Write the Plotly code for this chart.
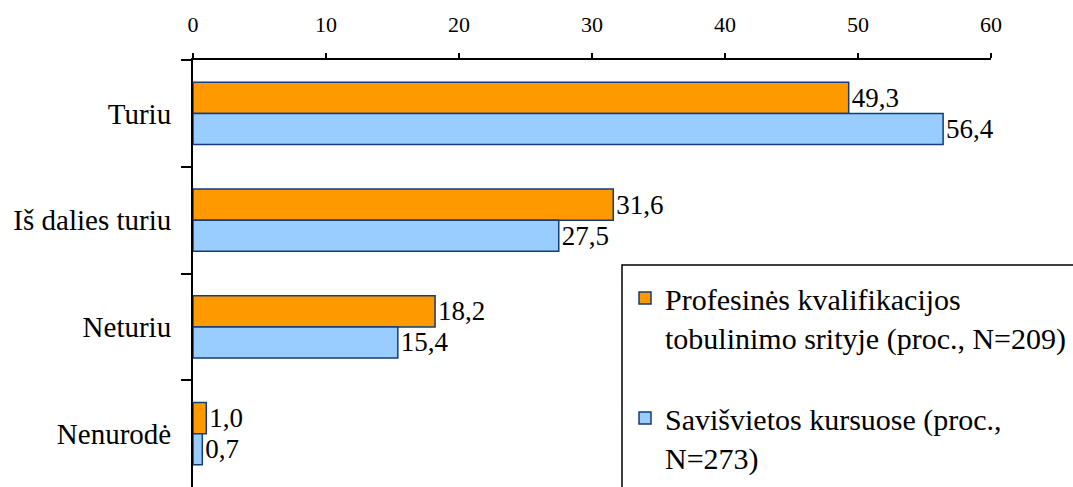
import plotly.graph_objects as go

categories = ["Turiu", "Iš dalies turiu", "Neturiu", "Nenurodė"]
series1_name = "Profesinės kvalifikacijos<br>tobulinimo srityje (proc., N=209)"
series1 = [49.3, 31.6, 18.2, 1.0]
series2_name = "Savišvietos kursuose (proc.,<br>N=273)"
series2 = [56.4, 27.5, 15.4, 0.7]
x_ticks = [0, 10, 20, 30, 40, 50, 60]

FONT = "Liberation Serif, serif"
W, H = 1073, 487
L, R, T, B = 193, 82, 60, 0
pw, ph = W - L - R, H - T - B

def px2x(p):
    return (p - L) / pw

def px2y(p):
    return (H - B - p) / ph

def fmt(v):
    return f"{v:.1f}".replace(".", ",")

fig = go.Figure()
for name, vals, color, grp in [(series1_name, series1, "#FF9900", "a"),
                                (series2_name, series2, "#99CCFF", "b")]:
    fig.add_trace(go.Bar(
        y=categories, x=vals, orientation="h", name=name, legendgroup=grp,
        marker=dict(color=color, line=dict(color="#123C7C", width=1.5)),
        text=[fmt(v) for v in vals], textposition="outside",
        textfont=dict(family=FONT, size=27, color="black"),
        constraintext="none", cliponaxis=False,
    ))

fig.update_layout(
    width=W, height=H,
    margin=dict(l=L, r=R, t=T, b=B, pad=0, autoexpand=False),
    paper_bgcolor="white", plot_bgcolor="white",
    barmode="group", bargap=0.416, bargroupgap=0,
    font=dict(family=FONT, color="black"),
    showlegend=True,
    legend=dict(
        x=px2x(625), y=px2y(272), xanchor="left", yanchor="top",
        font=dict(family=FONT, size=30, color="black"),
        bgcolor="rgba(0,0,0,0)", borderwidth=0,
        valign="top", tracegroupgap=39, traceorder="grouped",
    ),
    shapes=[dict(type="rect", xref="paper", yref="paper",
                 x0=px2x(622), x1=px2x(1085), y0=px2y(265), y1=px2y(500),
                 line=dict(color="black", width=1.5), fillcolor="rgba(0,0,0,0)")],
    xaxis=dict(
        side="top", range=[0, 60], tickvals=x_ticks,
        ticktext=[str(t) for t in x_ticks],
        showgrid=False, zeroline=False, automargin=False,
        showline=True, linecolor="black", linewidth=2,
        ticks="outside", ticklen=5, tickwidth=2, tickcolor="black",
        tickfont=dict(family=FONT, size=22, color="black"),
        ticklabelstandoff=12,
    ),
    yaxis=dict(
        range=[3.5, -0.5], type="category",
        showgrid=False, zeroline=False, automargin=False,
        showline=True, linecolor="black", linewidth=2,
        ticks="outside", ticklen=10, tickwidth=2, tickcolor="black",
        tickson="boundaries",
        tickfont=dict(family=FONT, size=29, color="black"),
        ticklabelstandoff=14,
    ),
)

fig.write_html("out.html", config={"displayModeBar": False},
               post_script="document.body.style.margin='0';")
